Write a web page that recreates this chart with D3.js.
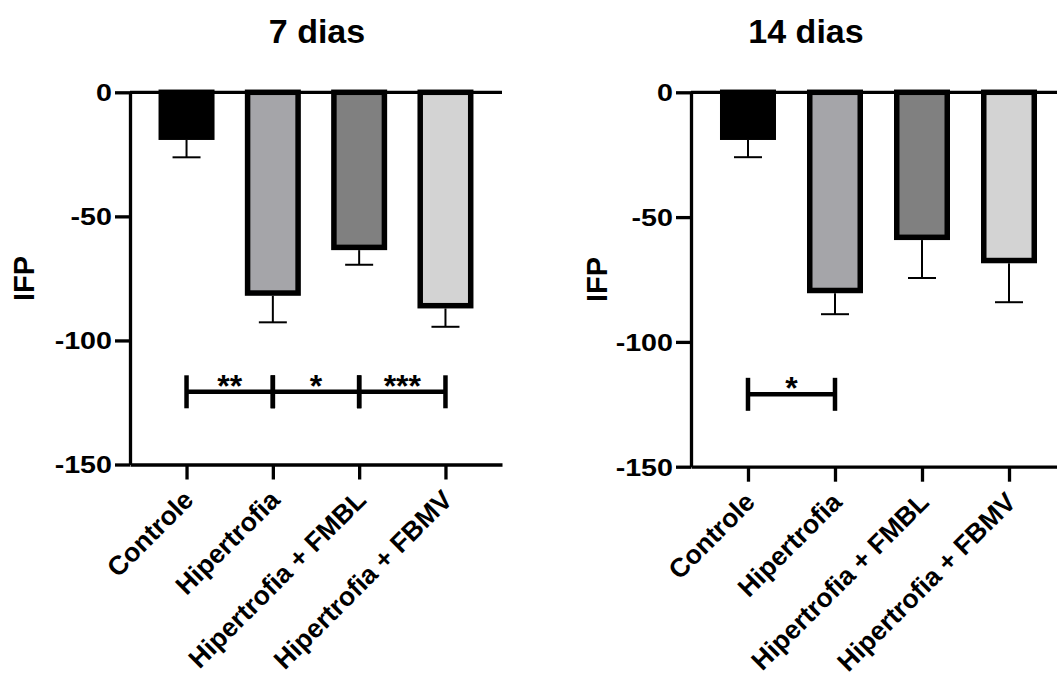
<!DOCTYPE html>
<html>
<head>
<meta charset="utf-8">
<script src="https://cdn.jsdelivr.net/npm/d3@7"></script>
<style>
  body { margin: 0; background: #fff; }
  svg { display: block; }
  text { font-family: "Liberation Sans", Arial, sans-serif; font-weight: bold; fill: #000; }
</style>
</head>
<body>
<div id="chart"></div>
<script>
const categories = ['Controle', 'Hipertrofia', 'Hipertrofia + FMBL', 'Hipertrofia + FBMV'];
const fills = ['#000000', '#a5a5a9', '#808080', '#d3d3d3'];

// 7 dias
const mean7 = [-18.1, -80.9, -62.5, -86.0];
const sem7 = [8.1, 11.8, 7.0, 8.5];
const sig7 = [
  { from: 0, to: 1, label: '**' },
  { from: 1, to: 2, label: '*' },
  { from: 2, to: 3, label: '***' }
];
const sigLevel7 = -120.7;

// 14 dias
const mean14 = [-18.0, -79.4, -58.1, -67.4];
const sem14 = [8.0, 9.5, 16.3, 16.7];
const sig14 = [{ from: 0, to: 1, label: '*' }];
const sigLevel14 = -121.0;

const yTicks = [0, -50, -100, -150];
const yLabel = 'IFP';

const W = 1057, H = 686;
const svg = d3.select('#chart').append('svg')
  .attr('width', W)
  .attr('height', H);

function drawPanel(cfg, means, sems, sig, sigLevel) {
  const g = svg.append('g');

  const x = d3.scalePoint()
    .domain(categories)
    .range([cfg.x0, cfg.x1])
    .padding(0.655);
  const y = d3.scaleLinear()
    .domain([0, -150])
    .range([cfg.y0, cfg.y1]);

  const barW = 50.5;
  const sw = 5.5;

  // bars hang down from the zero line
  g.selectAll('rect.bar')
    .data(means)
    .join('rect')
    .attr('class', 'bar')
    .attr('x', (d, i) => x(categories[i]) - barW / 2)
    .attr('y', y(0))
    .attr('width', barW)
    .attr('height', d => y(d) - y(0))
    .attr('fill', (d, i) => fills[i])
    .attr('stroke', '#000')
    .attr('stroke-width', sw);

  // error bars (one side, away from zero)
  const err = g.append('g').attr('stroke', '#000').attr('stroke-width', 2);
  means.forEach((m, i) => {
    const cx = x(categories[i]);
    err.append('line')
      .attr('x1', cx).attr('x2', cx)
      .attr('y1', y(m) + sw / 2).attr('y2', y(m - sems[i]));
    err.append('line')
      .attr('x1', cx - 14).attr('x2', cx + 14)
      .attr('y1', y(m - sems[i])).attr('y2', y(m - sems[i]));
  });

  // y axis
  const yAxis = g.append('g')
    .attr('transform', `translate(${cfg.x0},0)`)
    .call(d3.axisLeft(y).tickValues(yTicks).tickFormat(d => String(d))
      .tickSize(15).tickSizeOuter(0));
  yAxis.select('.domain').attr('stroke-width', 3.3);
  yAxis.selectAll('.tick line').attr('stroke-width', 3.3);
  // labels are drawn a bit wider than plain Arial in the original
  yAxis.selectAll('.tick text')
    .attr('font-size', 23.5)
    .attr('font-family', null)
    .attr('x', 0)
    .attr('dy', '0.36em')
    .attr('transform', 'translate(-18,0) scale(1.22,1)');

  // zero line across the top
  g.append('line')
    .attr('x1', cfg.x0).attr('x2', cfg.x1)
    .attr('y1', y(0)).attr('y2', y(0))
    .attr('stroke', '#000').attr('stroke-width', 3.3);

  // x axis at the bottom
  const xAxis = g.append('g')
    .attr('transform', `translate(0,${cfg.y1})`)
    .call(d3.axisBottom(x).tickSize(15).tickSizeOuter(0));
  xAxis.select('.domain').attr('stroke-width', 3.3);
  xAxis.selectAll('.tick line').attr('stroke-width', 3.3);
  xAxis.selectAll('.tick text')
    .attr('font-size', 26.5)
    .attr('font-family', null)
    .attr('text-anchor', 'end')
    .attr('x', 0).attr('y', 0).attr('dy', 0)
    .attr('transform', 'translate(8,37) rotate(-45)');

  // significance brackets
  const sg = g.append('g');
  const ly = y(sigLevel);
  sig.forEach(s => {
    const xa = x(categories[s.from]);
    const xb = x(categories[s.to]);
    sg.append('line')
      .attr('x1', xa).attr('x2', xb)
      .attr('y1', ly).attr('y2', ly)
      .attr('stroke', '#000').attr('stroke-width', 4.5);
    [xa, xb].forEach(xx => {
      sg.append('line')
        .attr('x1', xx).attr('x2', xx)
        .attr('y1', ly - 16.5).attr('y2', ly + 16.5)
        .attr('stroke', '#000').attr('stroke-width', 4.5);
    });
    sg.append('text')
      .attr('x', (xa + xb) / 2)
      .attr('y', ly + 5)
      .attr('text-anchor', 'middle')
      .attr('font-size', 32)
      .text(s.label);
  });

  // title
  g.append('text')
    .attr('x', cfg.titleX)
    .attr('y', 43)
    .attr('text-anchor', 'middle')
    .attr('font-size', 34)
    .text(cfg.title);

  // y label
  g.append('text')
    .attr('transform', `translate(${cfg.labelX},${(cfg.y0 + cfg.y1) / 2}) rotate(-90)`)
    .attr('text-anchor', 'middle')
    .attr('dy', '0.36em')
    .attr('font-size', 29)
    .text(yLabel);
}

drawPanel({ x0: 130, x1: 502, y0: 92.3, y1: 464.5, title: '7 dias', titleX: 317, labelX: 24 },
  mean7, sem7, sig7, sigLevel7);
drawPanel({ x0: 691, x1: 1066, y0: 92.3, y1: 466.7, title: '14 dias', titleX: 806, labelX: 597 },
  mean14, sem14, sig14, sigLevel14);
</script>
</body>
</html>
